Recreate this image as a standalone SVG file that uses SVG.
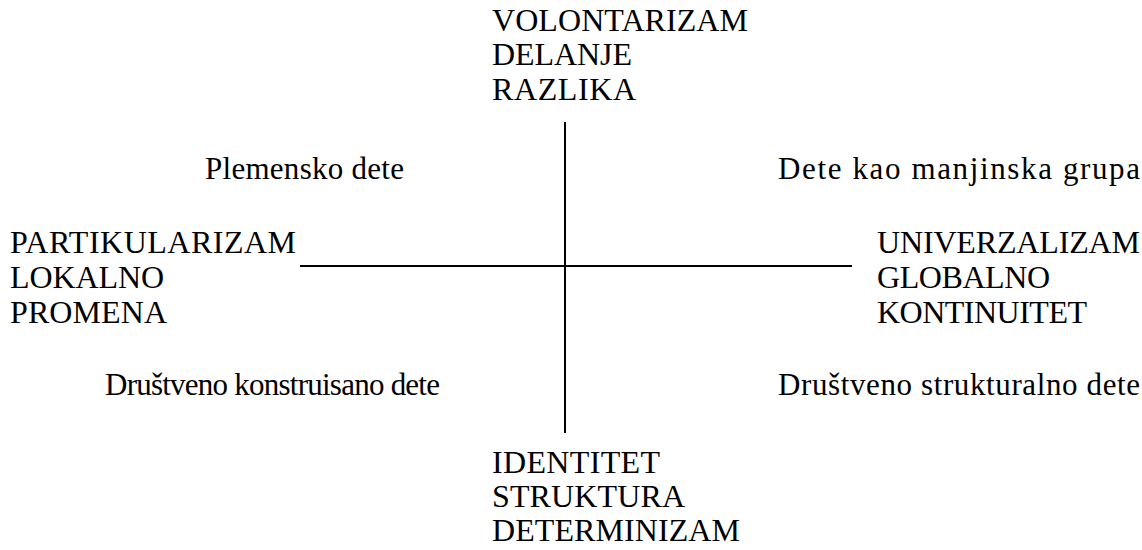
<svg xmlns="http://www.w3.org/2000/svg" width="1142" height="550" viewBox="0 0 1142 550">
<style>
text{font-family:"Liberation Serif","Times New Roman",serif;font-size:32px;fill:#000}
.lc{font-size:31px}
.ax{stroke:#000;stroke-width:2;fill:none}
</style>
<rect width="1142" height="550" fill="#fff"/>
<g id="connectors">
<line class="ax" x1="565" y1="122" x2="565" y2="433"/>
<line class="ax" x1="300" y1="266" x2="852" y2="266"/>
</g>
<g id="top">
<text x="492" y="31" textLength="256" lengthAdjust="spacing">VOLONTARIZAM</text>
<text x="492" y="65" textLength="140" lengthAdjust="spacing">DELANJE</text>
<text x="492" y="100" textLength="144" lengthAdjust="spacing">RAZLIKA</text>
</g>
<g id="left">
<text x="10" y="253" textLength="286" lengthAdjust="spacing">PARTIKULARIZAM</text>
<text x="10" y="288" textLength="154" lengthAdjust="spacing">LOKALNO</text>
<text x="10" y="323" textLength="157" lengthAdjust="spacing">PROMENA</text>
</g>
<g id="right">
<text x="877" y="253" textLength="263" lengthAdjust="spacing">UNIVERZALIZAM</text>
<text x="877" y="288" textLength="173" lengthAdjust="spacing">GLOBALNO</text>
<text x="877" y="323" textLength="210" lengthAdjust="spacing">KONTINUITET</text>
</g>
<g id="bottom">
<text x="492" y="473" textLength="168" lengthAdjust="spacing">IDENTITET</text>
<text x="492" y="507" textLength="193" lengthAdjust="spacing">STRUKTURA</text>
<text x="492" y="541" textLength="248" lengthAdjust="spacing">DETERMINIZAM</text>
</g>
<g id="q1"><text class="lc" x="205" y="179" textLength="199" lengthAdjust="spacing">Plemensko dete</text></g>
<g id="q2"><text class="lc" x="778" y="179" textLength="362" lengthAdjust="spacing">Dete kao manjinska grupa</text></g>
<g id="q3"><text class="lc" x="105" y="395" textLength="335" lengthAdjust="spacing">Društveno konstruisano dete</text></g>
<g id="q4"><text class="lc" x="778" y="395" textLength="362" lengthAdjust="spacing">Društveno strukturalno dete</text></g>
</svg>
